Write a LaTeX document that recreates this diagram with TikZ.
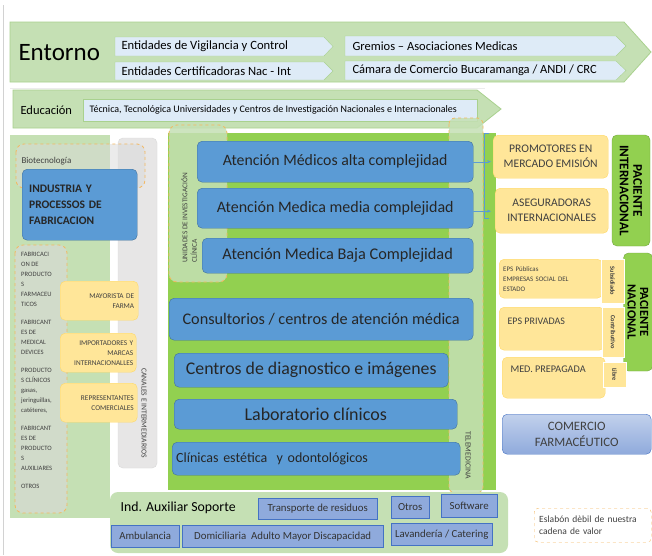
\documentclass[tikz,border=0pt]{standalone}
\usepackage{fontspec}
\setmainfont{Carlito}
\usetikzlibrary{arrows.meta,positioning}

\definecolor{lgreen}{HTML}{C5E0B4}
\definecolor{lgreenln}{HTML}{A9D18E}
\definecolor{dgreen}{HTML}{92D050}
\definecolor{paleblue}{HTML}{DEEBF7}
\definecolor{boxblue}{HTML}{5B9BD5}
\definecolor{boxblueln}{HTML}{41719C}
\definecolor{ylw}{HTML}{FFE699}
\definecolor{ylwln}{HTML}{FFD966}
\definecolor{auxblue}{HTML}{8FAADC}
\definecolor{auxblueln}{HTML}{4472C4}
\definecolor{bargrey}{HTML}{E7E6E6}
\definecolor{dashor}{HTML}{F4B860}
\definecolor{txtgrey}{HTML}{404040}

\newcommand{\fsz}[2]{\fontsize{#1}{#2}\selectfont}

\tikzset{
  bigarrow/.style={draw=lgreenln, fill=lgreen, line width=0.8pt},
  chev/.style={draw=lgreenln, fill=paleblue},
  bluebox/.style={draw=boxblueln, fill=boxblue, rounded corners=5pt, text=black!85, inner sep=0pt, anchor=north west},
  ybox/.style={draw=ylwln, fill=ylw, rounded corners=5pt, text=txtgrey, inner sep=3pt, anchor=north west},
  tabbox/.style={draw=white, fill=ylw, text=txtgrey, inner sep=0pt, font=\bfseries\fsz{6.3}{7}},
  auxbox/.style={draw=auxblueln, fill=auxblue, text=black!80, inner sep=0pt, anchor=north west, font=\fsz{10.8}{12}},
  dashbox/.style={draw=dashor, dashed, rounded corners=8pt, line width=0.8pt},
  pacbox/.style={draw=dgreen!80!black, fill=dgreen, rounded corners=5pt, rotate=-90, align=center}
}

\begin{document}
\begin{tikzpicture}[x=1pt,y=-1pt]
    \useasboundingbox[fill=white] (0,0) rectangle (652,555);
    \draw[gray!35] (3,5) -- (3,555);
    \draw[gray!15] (10,88) -- (485,88);

    \draw[bigarrow] (10,22) -- (624,22) -- (651,52) -- (624,82) -- (10,82) -- cycle;
    \node[anchor=west, font=\fsz{25}{27}] (entorno) at (15,53) {Entorno};
    \draw[chev] (115,37) -- (324,37) -- (333,46.5) -- (324,56) -- (115,56) -- cycle;
    \node[anchor=west, font=\fsz{12.6}{13}] (vigilancia) at (118,46.5) {Entidades de Vigilancia y Control};
    \draw[chev] (115,62) -- (324,62) -- (333,71) -- (324,80) -- (115,80) -- cycle;
    \node[anchor=west, font=\fsz{12.6}{13}] (certificadoras) at (118,71) {Entidades Certificadoras Nac - Int};
    \draw[chev] (345,36) -- (616,36) -- (626,46) -- (616,56) -- (345,56) -- cycle;
    \node[anchor=west, font=\fsz{12.5}{13}] (gremios) at (349,46) {Gremios -- Asociaciones Medicas};
    \draw[chev] (345,61) -- (616,61) -- (626,70.5) -- (616,80) -- (345,80) -- cycle;
    \node[anchor=west, font=\fsz{12.5}{13}] (camara) at (349,70.5) {Cámara de Comercio Bucaramanga / ANDI / CRC};

    \draw[bigarrow] (13,90) -- (477,90) -- (501,109) -- (477,128) -- (13,128) -- cycle;
    \node[anchor=west, font=\fsz{12.5}{14}] (educacion) at (17,110) {Educación};
    \draw[chev] (83,99) rectangle (477,121);
    \node[anchor=west, font=\fsz{10}{11}] (tecnica) at (86,110) {Técnica, Tecnológica Universidades y Centros de Investigación Nacionales e Internacionales};

    \fill[lgreen] (10,135) rectangle (110,518);
    \draw[gray!30, fill=bargrey, rounded corners=5pt] (118,138) rectangle (157,468);
    \node[rotate=-90, font=\fsz{7.6}{8}, text=txtgrey] (canales) at (144,413) {CANALES E INTERMEDIARIOS};
    \draw[dashbox, fill=gray!30, fill opacity=0.5] (16,144) rectangle (145,188);
    \node[anchor=west, font=\fsz{9}{10}, text=txtgrey] (biotec) at (18,161) {Biotecnología};
    \node[bluebox, minimum width=115pt, minimum height=71pt, text width=101pt, align=left, font=\bfseries\fsz{11.5}{16}] (industria) at (22,169) {INDUSTRIA Y\\PROCESSOS DE\\FABRICACION};
    \draw[dashbox, fill=gray!30, fill opacity=0.6] (15,245) rectangle (67,513);
    \node[anchor=north west, align=left, font=\fsz{6.6}{10}, text=txtgrey, inner sep=0pt] (productos) at (21,252)
        {FABRICACI\\ON DE\\PRODUCTO\\S\\FARMACEU\\TICOS\\[8pt]FABRICANT\\ES DE\\MEDICAL\\DEVICES\\[8pt]PRODUCTO\\S CLÍNICOS\\gasas,\\jeringuillas,\\catéteres,\\[8pt]FABRICANT\\ES DE\\PRODUCTO\\S\\AUXILIARES\\[8pt]OTROS};
    \node[ybox, minimum width=78pt, minimum height=39pt, text width=70pt, align=right, font=\fsz{7.3}{10}] (mayorista) at (60,281) {MAYORISTA DE\\FARMA};
    \node[ybox, minimum width=76pt, minimum height=39pt, text width=70pt, align=right, font=\fsz{7.3}{10}] (importadores) at (60,333) {IMPORTADORES Y\\MARCAS\\INTERNACIONALLES};
    \node[ybox, minimum width=77pt, minimum height=39pt, text width=70pt, align=right, font=\fsz{7.3}{10}] (representantes) at (60,383) {REPRESENTANTES\\COMERCIALES};

    \fill[dgreen] (168,133) rectangle (496,490);
    \draw[dashbox, fill=lgreen, fill opacity=0.85] (169,125) rectangle (227,282);
    \node[rotate=90, align=left, font=\fsz{7.3}{9.5}, text=txtgrey] (unidades) at (189,218) {UNIDADES DE INVESTIGACIÓN\\CLÍNICA};
    \draw[dashbox, rounded corners=6pt, fill=lgreen, fill opacity=0.85] (449,118) rectangle (483,493);
    \node[rotate=-90, font=\fsz{7.8}{9}, text=txtgrey] (telemedicina) at (468,455) {TELEMEDICINA};

    \node[bluebox, minimum width=276pt, minimum height=41pt, font=\fsz{15.8}{17}] (alta) at (197,141) {Atención Médicos alta complejidad};
    \node[bluebox, minimum width=276pt, minimum height=40pt, font=\fsz{16}{17}] (media) at (197,188) {Atención Medica media complejidad};
    \node[bluebox, minimum width=271pt, minimum height=35pt, font=\fsz{16.3}{17}] (baja) at (202,238) {Atención Medica Baja Complejidad};
    \node[bluebox, minimum width=304pt, minimum height=42pt, font=\fsz{16.2}{17}] (consultorios) at (169,298) {Consultorios / centros de atención médica};
    \node[bluebox, minimum width=274pt, minimum height=34pt, font=\fsz{17.8}{19}] (diagnostico) at (174,353) {Centros de diagnostico e imágenes};
    \node[bluebox, minimum width=283pt, minimum height=30pt, font=\fsz{18}{19}] (laboratorio) at (174,399) {Laboratorio clínicos};
    \node[bluebox, minimum width=288pt, minimum height=33pt, text width=280pt, align=left, font=\fsz{14}{15}] (clinicas) at (172,442) {Clínicas estética\ \ y odontológicos};

    \coordinate (brk) at (491,0);
    \draw[boxblue] (489,133) -- (484,133) -- (484,218) -- (489,218);
    \draw[boxblue, -{Stealth[length=4pt]}] (alta.east) -- (alta.east -| brk);
    \draw[boxblue, -{Stealth[length=4pt]}] ([yshift=-3pt]media.east) -- ([yshift=-3pt]media.east -| brk);

    \node[ybox, minimum width=115pt, minimum height=43pt, align=center, font=\fsz{11.6}{15}] (promotores) at (493,135) {PROMOTORES EN\\MERCADO EMISIÓN};
    \node[ybox, minimum width=113pt, minimum height=45pt, align=center, font=\fsz{11.6}{15}] (aseguradoras) at (495,188) {ASEGURADORAS\\INTERNACIONALES};
    \node[pacbox, minimum width=111pt, minimum height=38pt, font=\bfseries\fsz{13.2}{13.5}] (internacional) at (631,190.5) {PACIENTE\\INTERNACIONAL};

    \node[pacbox, minimum width=118pt, minimum height=29pt, font=\bfseries\fsz{12.5}{12.5}] (nacional) at (638,312) {PACIENTE\\NACIONAL};
    \node[ybox, minimum width=103pt, minimum height=39pt, text width=95pt, align=left, font=\fsz{6.9}{10}] (publicas) at (499,259) {EPS Públicas\\EMPRESAS SOCIAL DEL\\ESTADO};
    \node[ybox, minimum width=105pt, minimum height=43pt] (privadas) at (499,307) {};
    \node[anchor=west, font=\fsz{10}{11}, text=txtgrey] (privadastxt) at (504,321) {EPS PRIVADAS};
    \node[ybox, minimum width=103pt, minimum height=41pt] (prepagada) at (502,357) {};
    \node[anchor=west, font=\fsz{10.2}{11}, text=txtgrey] (prepagadatxt) at (507,369) {MED. PREPAGADA};
    \node[tabbox, rotate=-90, minimum width=44pt, minimum height=23pt] (subsidiado) at (612.5,281) {Subsidiado};
    \node[tabbox, rotate=-90, minimum width=50pt, minimum height=22pt] (contributivo) at (613,332) {Contributivo};
    \node[tabbox, rotate=-90, minimum width=25pt, minimum height=23pt] (libre) at (614.5,374.5) {Libre};
    \node[draw=auxblueln, top color=auxblue!55, bottom color=auxblue, rounded corners=5pt, anchor=north west, minimum width=149pt, minimum height=40pt, inner sep=0pt, align=center, text=black!75, font=\fsz{12.8}{16}] (comercio) at (502,414) {COMERCIO\\FARMACÉUTICO};

    \fill[lgreen, rounded corners=8pt] (110,492) rectangle (508,553);
    \node[anchor=west, font=\fsz{13.8}{15}] (auxiliar) at (117,508) {Ind. Auxiliar Soporte};
    \node[auxbox, minimum width=119pt, minimum height=21pt] (transporte) at (258,498) {Transporte de residuos};
    \node[auxbox, minimum width=38pt, minimum height=22pt] (otros) at (391,496) {Otros};
    \node[auxbox, minimum width=56pt, minimum height=23pt] (software) at (441,494) {Software};
    \node[auxbox, minimum width=68pt, minimum height=22pt] (ambulancia) at (111,525) {Ambulancia};
    \node[auxbox, minimum width=201pt, minimum height=22pt] (domiciliaria) at (182,525) {Domiciliaria\ \ Adulto Mayor Discapacidad};
    \node[auxbox, minimum width=101pt, minimum height=22pt] (lavanderia) at (391,523) {Lavandería / Catering};

    \node[draw=dashor, dashed, rounded corners=4pt, fill=white, anchor=north west, minimum width=117pt, minimum height=34pt, text width=107pt, align=left, inner xsep=5pt, font=\fsz{9.5}{11.5}, text=txtgrey] (eslabon) at (534,508) {Eslabón dèbil de nuestra\\cadena de valor};
\end{tikzpicture}
\end{document}
